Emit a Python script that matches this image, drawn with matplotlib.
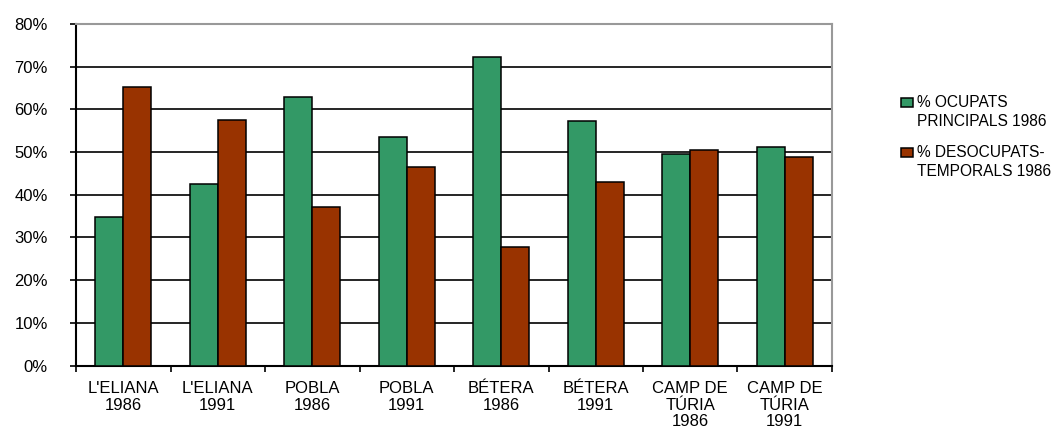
import matplotlib
matplotlib.use("Agg")
import matplotlib.pyplot as plt
import numpy as np

categories = ["L'ELIANA\n1986", "L'ELIANA\n1991", "POBLA\n1986", "POBLA\n1991",
              "BÉTERA\n1986", "BÉTERA\n1991", "CAMP DE\nTÚRIA\n1986", "CAMP DE\nTÚRIA\n1991"]
ocupats = [34.8, 42.5, 62.9, 53.6, 72.3, 57.3, 49.6, 51.1]
desocupats = [65.2, 57.5, 37.1, 46.4, 27.7, 42.9, 50.6, 48.8]
series_labels = [["% OCUPATS", "PRINCIPALS 1986"], ["% DESOCUPATS-", "TEMPORALS 1986"]]
yticks = [0, 10, 20, 30, 40, 50, 60, 70, 80]

GREEN = "#339966"
RED = "#993300"
W, H = 1055, 428

plt.rcParams["font.family"] = ["Liberation Sans", "DejaVu Sans"]

fig = plt.figure(figsize=(W / 100, H / 100), dpi=100)
ax = fig.add_axes([76 / W, (H - 365.5) / H, (832 - 76) / W, (365.5 - 24) / H])

x = np.arange(len(categories))
w = 0.296
ax.bar(x - w / 2, ocupats, width=w, color=GREEN, edgecolor="black", linewidth=1.1, zorder=3)
ax.bar(x + w / 2, desocupats, width=w, color=RED, edgecolor="black", linewidth=1.1, zorder=3)

ax.set_xlim(-0.5, len(categories) - 0.5)
ax.set_ylim(0, 80)
ax.set_yticks(yticks)
ax.set_yticklabels([f"{v}%" for v in yticks])
ax.yaxis.grid(True, color="black", linewidth=1.2, zorder=1)
ax.set_axisbelow(True)

# category boundary ticks, labels centred between them
ax.set_xticks(np.arange(len(categories) + 1) - 0.5)
ax.set_xticklabels([])
ax.set_xticks(x, minor=True)
ax.set_xticklabels(categories, minor=True, fontsize=12, linespacing=1.15)
ax.tick_params(axis="x", which="minor", length=0, pad=11)
ax.tick_params(axis="x", which="major", length=4, width=1.2, color="black", direction="out")
ax.tick_params(axis="y", length=4.3, width=1.2, color="black", pad=16, labelsize=12)
for lbl in ax.get_yticklabels():
    lbl.set_verticalalignment("center_baseline")

for side in ("left", "bottom"):
    ax.spines[side].set_color("black")
    ax.spines[side].set_linewidth(1.5)
for side in ("top", "right"):
    ax.spines[side].set_color("#999999")
    ax.spines[side].set_linewidth(1.5)

# legend: swatch plus two text lines per series
for i, (lines, col) in enumerate(zip(series_labels, [GREEN, RED])):
    off = i * 50
    fig.patches.append(plt.Rectangle((901 / W, 1 - (107 + off) / H), 12 / W, 9.5 / H,
                                     transform=fig.transFigure, facecolor=col,
                                     edgecolor="black", linewidth=1.1))
    for j, line in enumerate(lines):
        fig.text(917 / W, 1 - (107 + off + j * 19.5) / H, line, fontsize=11.2,
                 va="baseline", ha="left")

fig.savefig("out.png", dpi=100)
